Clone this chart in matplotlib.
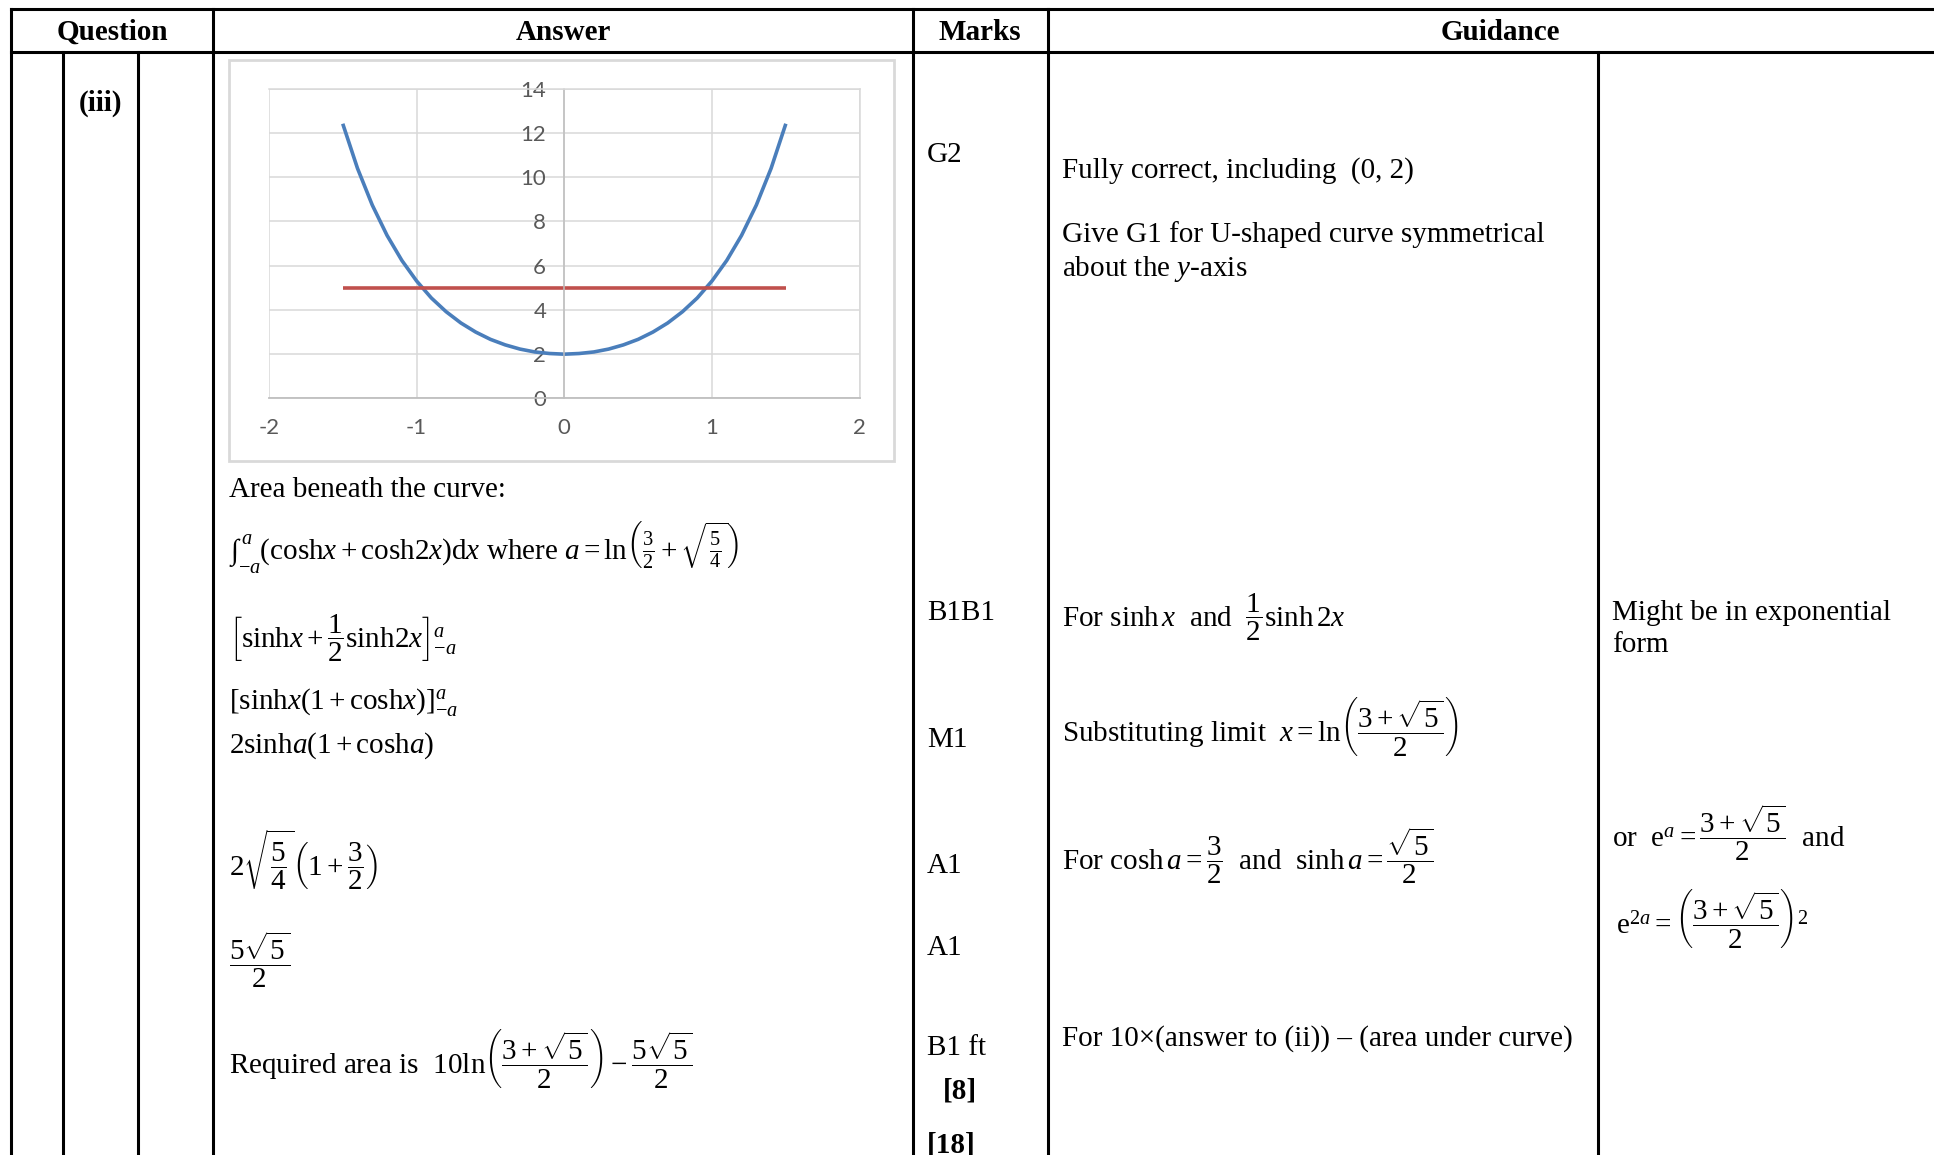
import matplotlib
matplotlib.use("Agg")
import matplotlib.pyplot as plt
from matplotlib.patches import Rectangle

# values in the answer cell
curve_x = [-1.5, -1.4, -1.3, -1.2, -1.1, -1.0, -0.9, -0.8, -0.7, -0.6, -0.5, -0.4, -0.3, -0.2, -0.1, 0.0,
           0.1, 0.2, 0.3, 0.4, 0.5, 0.6, 0.7, 0.8, 0.9, 1.0, 1.1, 1.2, 1.3, 1.4, 1.5]
curve_y = [12.42, 10.40, 8.74, 7.37, 6.24, 5.31, 4.54, 3.92, 3.41, 3.00, 2.67, 2.42, 2.23, 2.10, 2.03, 2.00,
           2.03, 2.10, 2.23, 2.42, 2.67, 3.00, 3.41, 3.92, 4.54, 5.31, 6.24, 7.37, 8.74, 10.40, 12.42]
line_x = [-1.5, 1.5]
line_y = [5, 5]
x_ticks = [-2, -1, 0, 1, 2]
y_ticks = [0, 2, 4, 6, 8, 10, 12, 14]

headers = ["Question", "Answer", "Marks", "Guidance"]
marks = ["G2", "B1B1", "M1", "A1", "A1", "B1 ft"]
totals = ["[8]", "[18]"]

plt.rcParams["font.family"] = "Liberation Serif"
plt.rcParams["mathtext.fontset"] = "custom"
plt.rcParams["mathtext.rm"] = "Liberation Serif"
plt.rcParams["mathtext.it"] = "Liberation Serif:italic"
plt.rcParams["mathtext.bf"] = "Liberation Serif:bold"
plt.rcParams["axes.unicode_minus"] = False

W, H = 1934, 1155
fig = plt.figure(figsize=(W / 100, H / 100), dpi=100)

# background axes in pixel units for the table
bg = fig.add_axes([0, 0, 1, 1])
bg.set_xlim(0, W)
bg.set_ylim(H, 0)
bg.axis("off")

lw = 2.2
for y in [9, 52]:
    bg.plot([11, W], [y, y], color="k", lw=lw, solid_capstyle="projecting")
for x in [11, 213, 913, 1048]:
    bg.plot([x, x], [9, H], color="k", lw=lw, solid_capstyle="projecting")
for x in [63, 138, 1598]:
    bg.plot([x, x], [52, H], color="k", lw=lw)

fs = 21


def put(x, y, s, **kw):
    kw.setdefault("fontsize", fs)
    kw.setdefault("ha", "left")
    bg.text(x, y, s, va="baseline", **kw)


# header row
for xc, h in zip([112, 563, 980, 1500], headers):
    put(xc, 40, h, ha="center", fontweight="bold")
put(79, 111, "(iii)", fontweight="bold")

# chart frame
bg.add_patch(Rectangle((229, 60), 665, 401, fill=False, ec="#D9D9D9", lw=2))

ax = fig.add_axes([268.9 / W, 1 - 398.4 / H, 590.8 / W, 309.6 / H])
ax.set_xlim(-2, 2)
ax.set_ylim(0, 14)
ax.set_xticks(x_ticks)
ax.set_yticks(y_ticks)
ax.set_xticklabels([str(v) for v in x_ticks])
ax.set_yticklabels([str(v) for v in y_ticks])
ax.grid(color="#D9D9D9", lw=1.1)
ax.set_axisbelow(True)
for s in ["top", "right"]:
    ax.spines[s].set_color("#D9D9D9")
    ax.spines[s].set_linewidth(1.1)
ax.spines["left"].set_position(("data", 0))
ax.spines["left"].set_color("#BFBFBF")
ax.spines["bottom"].set_color("#BFBFBF")
ax.spines["left"].set_linewidth(1.1)
ax.spines["bottom"].set_linewidth(1.3)
ax.tick_params(length=0, labelsize=16, labelcolor="#595959")
ax.tick_params(axis="y", pad=13)
ax.tick_params(axis="x", pad=14)
for lbl in ax.get_xticklabels() + ax.get_yticklabels():
    lbl.set_fontfamily("Lato")
ax.plot(curve_x, curve_y, color="#4A7EBB", lw=2.6, solid_joinstyle="round", solid_capstyle="butt")
ax.plot(line_x, line_y, color="#C0504D", lw=2.6, solid_capstyle="butt")

# answer column
put(229, 497, "Area beneath the curve:")
put(229, 560, r"$\int_{-a}^{a}(\mathrm{cosh}x+\mathrm{cosh}2x)\mathrm{d}x$ where "
              r"$a=\mathrm{ln}\left(\frac{3}{2}+\sqrt{\frac{5}{4}}\right)$")
put(229, 648, r"$\left[\mathrm{sinh}x+\dfrac{1}{2}\mathrm{sinh}2x\right]_{-a}^{a}$")
put(229, 710, r"$[\mathrm{sinh}x(1+\mathrm{cosh}x)]_{-a}^{a}$")
put(229, 753, r"$2\mathrm{sinh}a(1+\mathrm{cosh}a)$")
put(229, 877, r"$2\sqrt{\dfrac{5}{4}}\left(1+\dfrac{3}{2}\right)$")
put(229, 974, r"$\dfrac{5\sqrt{5}}{2}$")
put(229, 1075, r"Required area is  $10\mathrm{ln}\left(\dfrac{3+\sqrt{5}}{2}\right)-\dfrac{5\sqrt{5}}{2}$")

# marks column
for y, m in zip([162, 620, 747, 873, 955, 1055], marks):
    put(927, y, m)
put(943, 1098, totals[0], fontweight="bold")
put(927, 1152, totals[1], fontweight="bold")

# guidance column
put(1062, 178, "Fully correct, including  (0, 2)")
put(1062, 242, "Give G1 for U-shaped curve symmetrical")
put(1062, 276, r"about the $y$-axis")
put(1062, 627, r"For $\mathrm{sinh}\,x$  and  $\dfrac{1}{2}\mathrm{sinh}\,2x$")
put(1062, 743, r"Substituting limit  $x=\mathrm{ln}\left(\dfrac{3+\sqrt{5}}{2}\right)$")
put(1062, 870, r"For $\mathrm{cosh}\,a=\dfrac{3}{2}$  and  $\mathrm{sinh}\,a=\dfrac{\sqrt{5}}{2}$")
put(1062, 1046, "For 10\u00d7(answer to (ii)) \u2013 (area under curve)")

put(1612, 620, "Might be in exponential")
put(1612, 652, "form")
put(1612, 847, r"or  $\mathrm{e}^{a}=\dfrac{3+\sqrt{5}}{2}$  and")
put(1616, 935, r"$\mathrm{e}^{2a}=\left(\dfrac{3+\sqrt{5}}{2}\right)^{2}$")

fig.savefig("out.png", dpi=100)
